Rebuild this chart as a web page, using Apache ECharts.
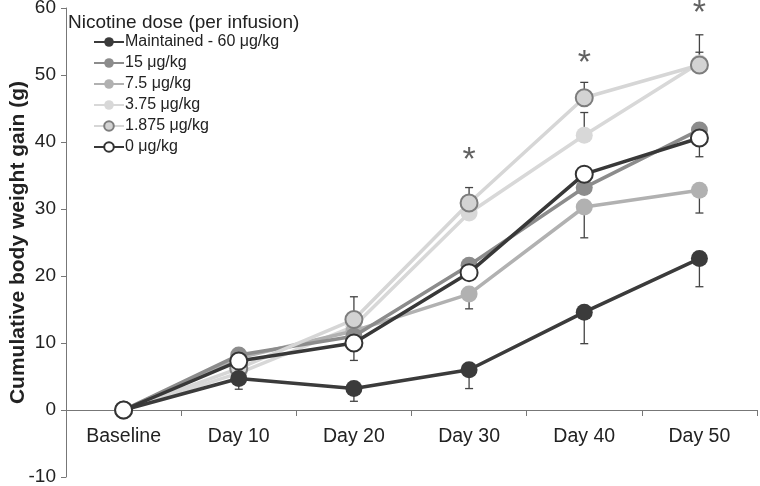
<!DOCTYPE html>
<html>
<head>
<meta charset="utf-8">
<script src="https://cdn.jsdelivr.net/npm/echarts@6/dist/echarts.min.js"></script>
<style>
  html, body { margin: 0; padding: 0; background: #fff; }
  #chart { width: 760px; height: 486px; }
</style>
</head>
<body>
<div id="chart"></div>
<script>
// days of the study
const categories = ["Baseline", "Day 10", "Day 20", "Day 30", "Day 40", "Day 50"];

// mean cumulative weight gain (g), per dose group
const maintained = [0, 4.7, 3.2, 6.0, 14.6, 22.6];
const dose15 = [0, 8.2, 11.0, 21.6, 33.2, 41.8];
const dose7_5 = [0, 7.8, 11.8, 17.3, 30.3, 32.8];
const dose3_75 = [0, 5.5, 12.5, 29.4, 41.0, 51.8];
const dose1_875 = [0, 6.2, 13.5, 30.9, 46.6, 51.5];
const dose0 = [0, 7.3, 10.0, 20.5, 35.2, 40.6];

// one sided SEM bars: negative = drawn downward, positive = upward
const errMaintained = [0, -1.6, -1.9, -2.8, -4.7, -4.2];
const err15 = [0, 0, 0, 0, 0, 0];
const err7_5 = [0, 0, 0, -2.2, -4.6, -3.4];
const err3_75 = [0, 0, 0, 0, 3.4, 1.6];
const err1_875 = [0, 0, 3.4, 2.3, 2.3, 4.5];
const err0 = [0, 0, -2.6, 0, 0, -2.8];

// significance markers
const starY = [null, null, null, 37.2, 51.7, 59.1];

const groups = [
  { name: "Maintained - 60 μg/kg", data: maintained, err: errMaintained, line: "#3b3b3b", fill: "#3b3b3b", border: "#3b3b3b", z: 5 },
  { name: "15 μg/kg", data: dose15, err: err15, line: "#8c8c8c", fill: "#8c8c8c", border: "#8c8c8c", z: 3 },
  { name: "7.5 μg/kg", data: dose7_5, err: err7_5, line: "#b1b1b1", fill: "#b1b1b1", border: "#b1b1b1", z: 2 },
  { name: "3.75 μg/kg", data: dose3_75, err: err3_75, line: "#d8d8d8", fill: "#d8d8d8", border: "#d8d8d8", z: 1 },
  { name: "1.875 μg/kg", data: dose1_875, err: err1_875, line: "#d6d6d6", fill: "#d3d3d3", border: "#7d7d7d", z: 4 },
  { name: "0 μg/kg", data: dose0, err: err0, line: "#383838", fill: "#ffffff", border: "#333333", z: 6 }
];

const chart = echarts.init(document.getElementById("chart"));

const series = [];
groups.forEach(function (g) {
  // error bars
  series.push({
    type: "custom",
    z: 1,
    silent: true,
    data: g.data.map(function (v, i) { return [i, v, g.err[i]]; }),
    renderItem: function (params, api) {
      const e = api.value(2);
      if (!e) return;
      const p0 = api.coord([api.value(0), api.value(1)]);
      const p1 = api.coord([api.value(0), api.value(1) + e]);
      const style = { stroke: "#444", lineWidth: 1.3 };
      return {
        type: "group",
        children: [
          { type: "line", shape: { x1: p0[0], y1: p0[1], x2: p1[0], y2: p1[1] }, style: style },
          { type: "line", shape: { x1: p1[0] - 4, y1: p1[1], x2: p1[0] + 4, y2: p1[1] }, style: style }
        ]
      };
    }
  });
  series.push({
    name: g.name,
    type: "line",
    z: 2 + g.z,
    data: g.data,
    symbol: "circle",
    symbolSize: 17,
    showAllSymbol: true,
    lineStyle: { color: g.line, width: 3.5 },
    itemStyle: { color: g.fill, borderColor: g.border, borderWidth: g.border === g.fill ? 0 : 2 },
    emphasis: { disabled: true }
  });
});

series.push({
  type: "scatter",
  silent: true,
  z: 20,
  symbolSize: 1,
  itemStyle: { color: "rgba(0,0,0,0)" },
  clip: false,
  data: starY.map(function (v, i) { return v === null ? null : [i, v]; }),
  label: {
    show: true,
    position: "inside",
    formatter: "*",
    fontSize: 34,
    color: "#3a3a3a",
    fontFamily: "Liberation Sans"
  }
});

chart.setOption({
  animation: false,
  textStyle: { fontFamily: "Liberation Sans" },
  title: {
    text: "Nicotine dose (per infusion)",
    left: 63,
    top: 8,
    textStyle: { fontSize: 19, fontWeight: "normal", color: "#222" }
  },
  legend: {
    orient: "vertical",
    left: 88,
    top: 29,
    itemWidth: 30,
    itemHeight: 12,
    itemGap: 5,
    textStyle: { fontSize: 16, color: "#222", padding: [0, 0, 0, -4] },
    data: groups.map(function (g) { return g.name; })
  },
  grid: { left: 66, right: 3, top: 8, bottom: 9, outerBoundsMode: "none", containLabel: false },
  xAxis: {
    type: "category",
    data: categories,
    offset: -67,
    axisLine: { onZero: false, lineStyle: { color: "#777", width: 1 } },
    axisTick: { show: true, length: 6, lineStyle: { color: "#777" } },
    axisLabel: { fontSize: 19.5, color: "#222", margin: 17 }
  },
  yAxis: {
    type: "value",
    min: -10,
    max: 60,
    interval: 10,
    name: "Cumulative body weight gain (g)",
    nameLocation: "middle",
    nameGap: 37,
    nameMoveOverlap: false,
    nameTextStyle: { fontSize: 21, fontWeight: "bold", color: "#222" },
    axisLine: { show: true, lineStyle: { color: "#777" } },
    axisTick: { show: true, length: 5, lineStyle: { color: "#777" } },
    axisLabel: { fontSize: 19, color: "#222", margin: 10 },
    splitLine: { show: false }
  },
  series: series
});
</script>
</body>
</html>
